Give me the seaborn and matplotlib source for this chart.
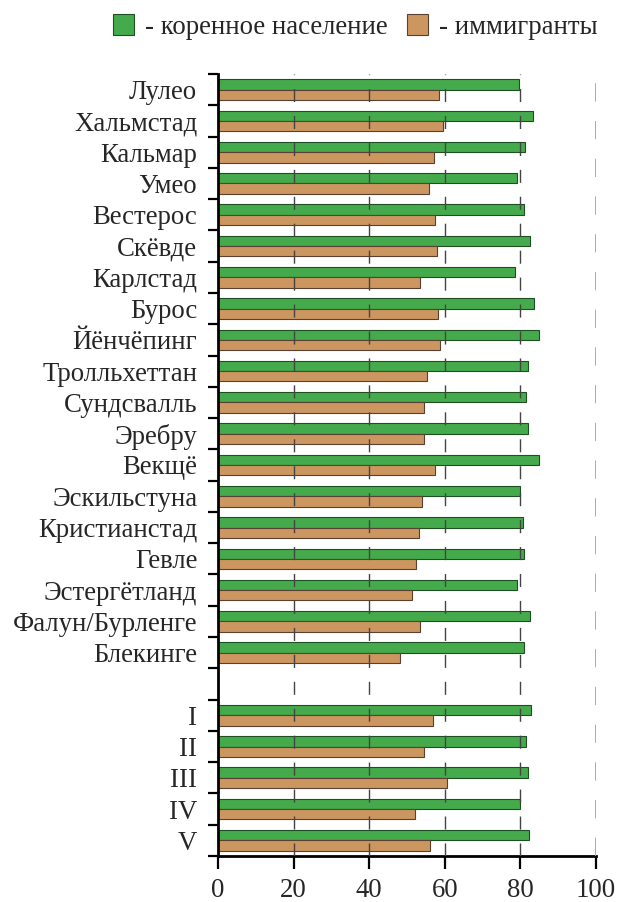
import matplotlib
matplotlib.use("Agg")
import matplotlib.pyplot as plt
import matplotlib.patches as mpatches
import seaborn as sns
import pandas as pd

cities = ["Лулео", "Хальмстад", "Кальмар", "Умео", "Вестерос", "Скёвде", "Карлстад",
          "Бурос", "Йёнчёпинг", "Тролльхеттан", "Сундсвалль", "Эребру", "Векщё",
          "Эскильстуна", "Кристианстад", "Гевле", "Эстергётланд", "Фалун/Бурленге",
          "Блекинге"]
groups = ["I", "II", "III", "IV", "V"]

native_cities = [79.5, 83.4, 81.3, 79.1, 80.9, 82.5, 78.6, 83.6, 84.9, 81.9, 81.6, 81.9,
                 84.9, 80.0, 80.6, 80.9, 79.1, 82.5, 80.9]
immig_cities = [58.5, 59.6, 57.2, 55.7, 57.4, 57.9, 53.5, 58.1, 58.8, 55.4, 54.6, 54.6,
                57.5, 53.9, 53.2, 52.5, 51.3, 53.5, 48.1]
native_groups = [82.9, 81.6, 81.9, 80.0, 82.2]
immig_groups = [56.8, 54.6, 60.6, 52.2, 56.2]

series_names = ["- коренное население", "- иммигранты"]
x_ticks = [0, 20, 40, 60, 80, 100]

green = "#45aa4b"
tan = "#cc9660"
green_edge = "#1e4f22"
tan_edge = "#5a4030"
FS = 19.3

sns.set_style("white")
plt.rcParams['font.family'] = ['Liberation Serif', 'DejaVu Serif']

labels = cities + groups
native = native_cities + native_groups
immig = immig_cities + immig_groups
df = pd.DataFrame({
    "cat": labels * 2,
    "val": native + immig,
    "series": [series_names[0]] * len(labels) + [series_names[1]] * len(labels),
})
blank = " "
order = cities + [blank] + groups

fig = plt.figure(figsize=(6.22, 9.02), dpi=100)
ax = fig.add_axes([218/622, 46/902, (596-218)/622, (856-74)/902])

sns.barplot(data=df, y="cat", x="val", hue="series", order=order,
            hue_order=series_names, palette=[green, tan], width=0.66,
            orient="h", ax=ax, legend=False, saturation=1)

for cont, ec in zip(ax.containers, [green_edge, tan_edge]):
    for p in cont.patches:
        p.set_edgecolor(ec)
        p.set_linewidth(0.8)

ax.set_xlim(0, 100)
ax.set_ylim(len(order) - 0.5, -0.5)
ax.set_xticks(x_ticks)
ax.set_xticklabels([str(t) for t in x_ticks], fontsize=FS)
ax.set_yticks(range(len(order)))
ax.set_yticklabels(order, fontsize=FS)
ax.tick_params(axis='y', which='major', left=True, length=0, pad=15)
ax.set_yticks([i - 0.5 for i in range(len(order) + 1)], minor=True)
ax.tick_params(axis='y', which='minor', left=True, length=7, width=1.6,
               direction='out', color='black')
ax.tick_params(axis='x', which='major', bottom=True, length=9, width=1.6,
               direction='out', color='black', pad=7)
ax.set_xlabel("")
ax.set_ylabel("")

for s in ["top", "right"]:
    ax.spines[s].set_visible(False)
for s in ["left", "bottom"]:
    ax.spines[s].set_visible(True)
    ax.spines[s].set_color("black")
    ax.spines[s].set_linewidth(2)

ax.xaxis.grid(True, color="#444444", linewidth=1.0, linestyle=(0, (9.4, 10)))
ax.yaxis.grid(False)
ax.set_axisbelow(False)
gl = ax.get_xgridlines()
gl[0].set_visible(False)
gl[-1].set_color("#aaaaaa")
gl[-1].set_linewidth(1.4)

handles = [mpatches.Patch(facecolor=green, edgecolor=green_edge, linewidth=0.8),
           mpatches.Patch(facecolor=tan, edgecolor=tan_edge, linewidth=0.8)]
fig.legend(handles, series_names, loc="center", bbox_to_anchor=(0.571, 0.970), ncol=2,
           frameon=False, fontsize=FS, handlelength=0.8, handleheight=0.8,
           handletextpad=0.4, columnspacing=0.7)

fig.savefig("out.png", dpi=100)
